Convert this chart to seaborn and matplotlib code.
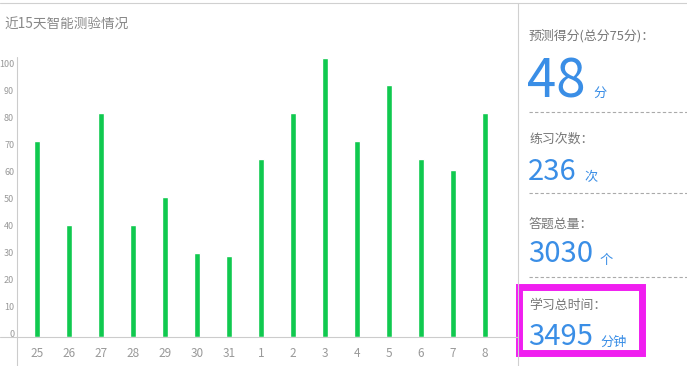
import matplotlib
matplotlib.use("Agg")
import matplotlib.pyplot as plt
import matplotlib.transforms as mtransforms
from matplotlib.lines import Line2D
from matplotlib.patches import Rectangle
import seaborn as sns
import pandas as pd

# ---- data ----
days = ["25", "26", "27", "28", "29", "30", "31", "1", "2", "3", "4", "5", "6", "7", "8"]
scores = [72.5, 41.5, 83, 41.5, 52, 31, 30, 66, 83, 103.5, 72.5, 93.5, 66, 62, 83]
y_ticks = [0, 10, 20, 30, 40, 50, 60, 70, 80, 90, 100]
title = "近15天智能测验情况"
stat_labels = ["预测得分(总分75分)：", "练习次数：", "答题总量：", "学习总时间："]
stat_values = ["48", "236", "3030", "3495"]
stat_units = ["分", "次", "个", "分钟"]

W, H = 687, 366
sns.set_theme(style="white")
plt.rcParams['font.family'] = ['Noto Sans CJK SC', 'DejaVu Sans']

fig = plt.figure(figsize=(W / 100, H / 100), dpi=100)
fig.patch.set_facecolor("white")


def fx(x):
    return x / W


def fy(y):
    return 1 - y / H


ax = fig.add_axes([fx(17), fy(337), (518 - 17) / W, (337 - 57) / H])
df = pd.DataFrame({"day": days, "score": scores})
sns.barplot(data=df, x="day", y="score", order=days, color="#10c94f",
            saturation=1, width=0.18, ax=ax)
ax.set_xlim(-0.634, 15.03)
ax.set_ylim(0, 103.7)
ax.set_yticks(y_ticks)
ax.set_yticklabels([str(v) for v in y_ticks])
ax.set_xlabel("")
ax.set_ylabel("")
for s in ax.spines.values():
    s.set_visible(False)
ax.tick_params(axis="y", length=0, pad=2, labelsize=6.5, colors="#999999")
ax.tick_params(axis="x", length=0, pad=7, labelsize=8.5, colors="#999999")
off = mtransforms.ScaledTranslation(0, 3.5 / 100, fig.dpi_scale_trans)
for lab in ax.get_yticklabels():
    lab.set_transform(lab.get_transform() + off)
ax.set_facecolor("white")

line_col = "#cccccc"
# frame lines
fig.add_artist(Line2D([0, 1], [fy(2.5), fy(2.5)], transform=fig.transFigure, color="#d0d0d0", lw=0.8))
fig.add_artist(Line2D([fx(518), fx(518)], [fy(2.5), 0], transform=fig.transFigure, color="#d0d0d0", lw=0.8))
fig.add_artist(Line2D([fx(17), fx(17)], [fy(57), 0], transform=fig.transFigure, color=line_col, lw=0.8))
fig.add_artist(Line2D([0, fx(518)], [fy(337), fy(337)], transform=fig.transFigure, color=line_col, lw=0.8))

# title
fig.text(fx(4), fy(28), title, fontsize=9.8, color="#888888", ha="left", va="baseline")

# right panel
blue = "#3a8ee6"
grey = "#777777"
fig.text(fx(529), fy(40), stat_labels[0], fontsize=9.3, color=grey, ha="left", va="baseline")
fig.text(fx(527), fy(98), stat_values[0], fontsize=38, color=blue, ha="left", va="baseline")
fig.text(fx(593), fy(97), stat_units[0], fontsize=9.5, color=blue, ha="left", va="baseline")

fig.text(fx(529), fy(143), stat_labels[1], fontsize=9.3, color=grey, ha="left", va="baseline")
fig.text(fx(528), fy(180), stat_values[1], fontsize=21, color=blue, ha="left", va="baseline")
fig.text(fx(584), fy(181), stat_units[1], fontsize=9.5, color=blue, ha="left", va="baseline")

fig.text(fx(529), fy(228), stat_labels[2], fontsize=9.3, color=grey, ha="left", va="baseline")
fig.text(fx(528), fy(262), stat_values[2], fontsize=21, color=blue, ha="left", va="baseline")
fig.text(fx(600), fy(264), stat_units[2], fontsize=9.5, color=blue, ha="left", va="baseline")

fig.text(fx(529), fy(309), stat_labels[3], fontsize=9.3, color=grey, ha="left", va="baseline")
fig.text(fx(528), fy(345), stat_values[3], fontsize=21, color=blue, ha="left", va="baseline")
fig.text(fx(600), fy(346), stat_units[3], fontsize=9.5, color=blue, ha="left", va="baseline")

for yy in (112, 193, 277):
    fig.add_artist(Line2D([fx(529), 1], [fy(yy), fy(yy)], transform=fig.transFigure,
                          color="#aaaaaa", lw=0.8, linestyle=(0, (3, 2))))

# highlight box
fig.add_artist(Rectangle((fx(518.5), fy(352.5)), (641.5 - 518.5) / W, (352.5 - 286.5) / H,
                         transform=fig.transFigure, fill=False, edgecolor="#f01ef0", lw=5.0))

fig.savefig("out.png", dpi=100)
